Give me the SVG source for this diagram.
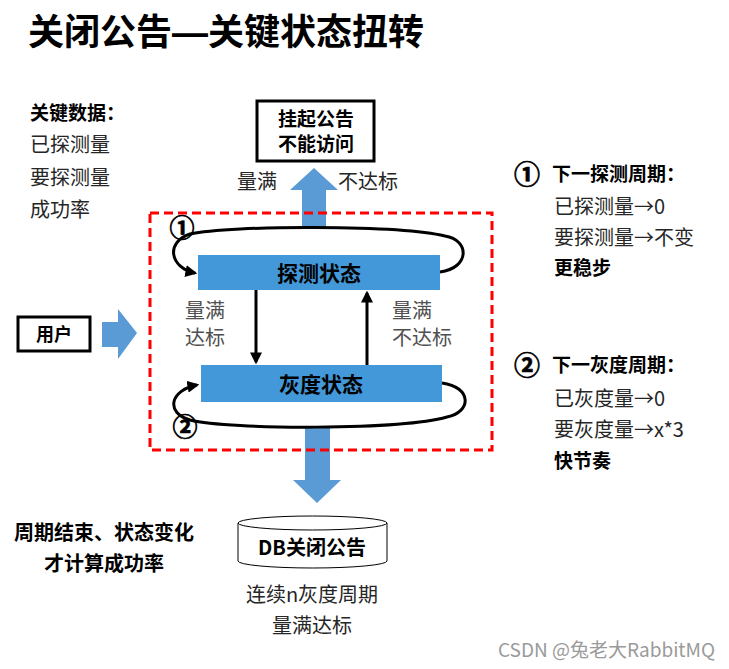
<svg xmlns="http://www.w3.org/2000/svg" width="729" height="669" viewBox="0 0 729 669">
<defs>
<style>
text{font-family:"Noto Sans CJK SC","Liberation Sans",sans-serif;fill:#262626}
.b{font-weight:bold;fill:#000}
.t{font-size:20px}
.lbl{font-size:20px;fill:#505050}
.c{text-anchor:middle}
.num{font-weight:bold;fill:#000;stroke:#000;stroke-width:0.7}
.state{fill:#4398DA}
.blue{fill:#5B9BD5}
.line{fill:none;stroke:#000;stroke-width:3}
</style>
<marker id="ah" viewBox="0 0 10 10" refX="8" refY="5" markerWidth="4" markerHeight="4" orient="auto" markerUnits="strokeWidth">
<path d="M0,0 L10,5 L0,10 z" fill="#000"/>
</marker>
</defs>
<rect width="729" height="669" fill="#fff"/>

<text x="28" y="45" class="b" font-size="36">关闭公告<tspan font-family="Liberation Sans">—</tspan>关键状态扭转</text>

<g id="key-data">
<text x="30" y="120" class="b" font-size="19">关键数据：</text>
<text x="30" y="152" class="t">已探测量</text>
<text x="30" y="185" class="t">要探测量</text>
<text x="30" y="217" class="t">成功率</text>
</g>

<g id="suspend">
<rect x="257" y="101" width="117" height="60" fill="#fff" stroke="#000" stroke-width="3"/>
<text x="316" y="126" class="b c" font-size="19">挂起公告</text>
<text x="316" y="151" class="b c" font-size="19">不能访问</text>
</g>

<g id="user">
<rect x="18" y="317" width="72" height="34" fill="#fff" stroke="#000" stroke-width="3"/>
<text x="54" y="341" class="b c" font-size="18">用户</text>
</g>

<g id="connectors">
<path class="blue" d="M302,228 L302,190 L290,190 L314,168 L338,190 L326,190 L326,228 z"/>
<path class="blue" d="M102,322 L118,322 L118,309 L137,333 L118,359 L118,347 L102,347 z"/>
<path class="blue" d="M305,428 L330,428 L330,480 L341,480 L317,503 L293,480 L305,480 z"/>
<line class="line" x1="256" y1="290" x2="256" y2="362" marker-end="url(#ah)"/>
<line class="line" x1="367" y1="365" x2="367" y2="293" marker-end="url(#ah)"/>
<path class="line" d="M440,272 C470,268 470,240 445,236 C400,225 230,225 190,234 C165,242 170,268 195,273" marker-end="url(#ah)"/>
<path class="line" d="M442,383 C472,387 472,412 447,417 C400,430 230,430 190,420 C165,413 170,390 197,385" marker-end="url(#ah)"/>
</g>

<rect x="150" y="213" width="342" height="237" fill="none" stroke="#FF0000" stroke-width="3" stroke-dasharray="9,5"/>

<g id="probe">
<rect class="state" x="198" y="255" width="242" height="35"/>
<text x="319" y="281" class="b c" font-size="21">探测状态</text>
</g>
<g id="gray">
<rect class="state" x="201" y="365" width="241" height="37"/>
<text x="321" y="392" class="b c" font-size="21">灰度状态</text>
</g>

<g id="labels">
<text x="237" y="189" class="t">量满</text>
<text x="338" y="189" class="t">不达标</text>
<text x="185" y="318" class="lbl">量满</text>
<text x="185" y="345" class="lbl">达标</text>
<text x="392" y="318" class="lbl">量满</text>
<text x="392" y="345" class="lbl">不达标</text>
<text x="182" y="237" class="num c" font-size="25">①</text>
<text x="185" y="436" class="num c" font-size="25">②</text>
</g>

<g id="db">
<path d="M238,523 L238,561 A74.5,7 0 0 0 387,561 L387,523" fill="#fff" stroke="#000" stroke-width="1"/>
<ellipse cx="312.5" cy="523" rx="74.5" ry="7" fill="#fff" stroke="#000" stroke-width="1"/>
<text x="312" y="555" class="b c" font-size="20">DB关闭公告</text>
</g>
<text x="312" y="602" class="t c">连续n灰度周期</text>
<text x="312" y="633" class="t c">量满达标</text>

<g id="note-bottom">
<text x="104" y="540" class="b c" font-size="20">周期结束、状态变化</text>
<text x="104" y="571" class="b c" font-size="20">才计算成功率</text>
</g>

<g id="note-right">
<text x="527" y="184" class="num c" font-size="26">①</text>
<text x="552" y="181" class="b" font-size="19">下一探测周期：</text>
<text x="554" y="214" class="t">已探测量→0</text>
<text x="554" y="245" class="t">要探测量→不变</text>
<text x="554" y="275" class="b" font-size="19">更稳步</text>
<text x="527" y="375" class="num c" font-size="26">②</text>
<text x="552" y="372" class="b" font-size="19">下一灰度周期：</text>
<text x="554" y="406" class="t">已灰度量→0</text>
<text x="554" y="437" class="t">要灰度量→x*3</text>
<text x="554" y="468" class="b" font-size="19">快节奏</text>
</g>

<text x="498" y="657" font-size="19" style="fill:#9a9a9a">CSDN @兔老大RabbitMQ</text>
</svg>
